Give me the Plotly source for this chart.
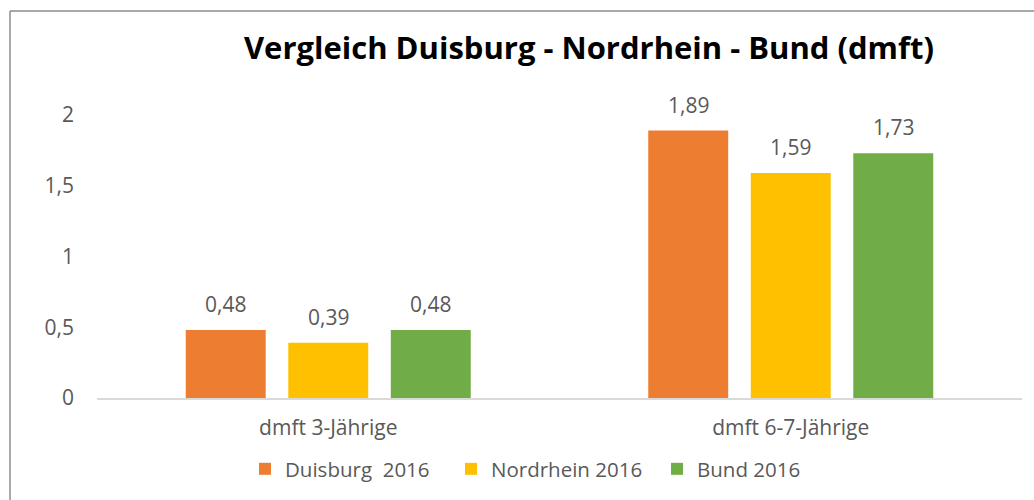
import plotly.graph_objects as go

categories = ["dmft 3-Jährige", "dmft 6-7-Jährige"]
series_names = ["Duisburg  2016", "Nordrhein 2016", "Bund 2016"]
duisburg = [0.48, 1.89]
nordrhein = [0.39, 1.59]
bund = [0.48, 1.73]
colors = ["#ED7D31", "#FFC000", "#70AD47"]
y_ticks = [0, 0.5, 1, 1.5, 2]

W, H = 1034, 500
L, R, T, B = 97, 12, 115, 102
FONT = "Open Sans"
GRAY = "#595959"
FS = 21
BARGAP, GROUPGAP = 0.335, 0.22

fig = go.Figure()
series = [duisburg, nordrhein, bund]
for name, vals, col in zip(series_names, series, colors):
    fig.add_trace(go.Bar(
        x=categories, y=vals, name=name,
        marker=dict(color=col, line=dict(width=0)),
    ))

pw, ph = W - L - R, H - T - B
slot = pw / len(categories) * (1 - BARGAP) / len(series)

annotations = []
for i, vals in enumerate(series):
    for cat, v in zip(categories, vals):
        annotations.append(dict(
            x=cat, y=v, xref="x", yref="y", text=f"{v:.2f}".replace(".", ","),
            showarrow=False, yanchor="bottom", yshift=10,
            xshift=(i - (len(series) - 1) / 2) * slot,
            font=dict(family=FONT, size=FS, color=GRAY)))

def px(x):
    return (x - L) / pw
def py(y):
    return (H - B - y) / ph

border = dict(color="#8C8C8C", width=1.5)
fig.update_layout(
    width=W, height=H,
    margin=dict(l=L, r=R, t=T, b=B, autoexpand=False),
    paper_bgcolor="white", plot_bgcolor="white",
    separators=", ",
    barmode="group", bargap=BARGAP, bargroupgap=GROUPGAP,
    font=dict(family=FONT, color=GRAY, size=FS),
    title=dict(text="<b>Vergleich Duisburg - Nordrhein - Bund (dmft)</b>",
               font=dict(family=FONT, size=31, color="black"),
               x=589 / W, xanchor="center", y=1 - 48 / H, yanchor="middle"),
    xaxis=dict(showgrid=False, showline=True, linecolor="#D9D9D9", linewidth=2,
               ticks="", tickfont=dict(size=FS, color=GRAY), ticklabelstandoff=10),
    yaxis=dict(range=[0, 2], tickvals=y_ticks, showgrid=False, zeroline=False,
               showline=False, ticks="", tickfont=dict(size=FS, color=GRAY),
               ticklabelstandoff=22),
    annotations=annotations,
    showlegend=True,
    legend=dict(orientation="h", x=px(245), xanchor="left", y=py(469), yanchor="middle",
                font=dict(size=20.5, color=GRAY), entrywidth=161, entrywidthmode="pixels",
                itemclick=False, traceorder="normal"),
    shapes=[
        dict(type="line", xref="paper", yref="paper",
             x0=px(10), x1=px(W + 5), y0=py(11), y1=py(11), line=border, layer="below"),
        dict(type="line", xref="paper", yref="paper",
             x0=px(10), x1=px(10), y0=py(11), y1=py(H + 5), line=border, layer="below"),
    ],
)

fig.write_html(
    "out.html", config={"displayModeBar": False},
    post_script=("document.body.style.margin='0';"
                 "document.body.style.overflow='hidden';"
                 "document.documentElement.style.overflow='hidden';"))
